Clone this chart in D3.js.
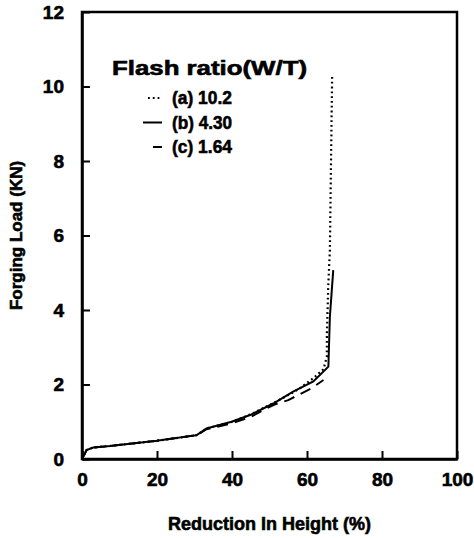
<!DOCTYPE html>
<html>
<head>
<meta charset="utf-8">
<script src="https://cdn.jsdelivr.net/npm/d3@7"></script>
<style>
  body { margin: 0; background: #fff; }
  text { font-family: 'Liberation Sans', Arial, sans-serif; font-weight: bold; fill: #000; stroke: #000; stroke-width: 0.6px; }
</style>
</head>
<body>
<div id="chart"><svg width="474" height="538"></svg></div>
<script>
// reduction in height (%) and forging load (KN)
const reductionA = [0, 1.2, 3, 7.5, 20, 30.6, 33.2, 40, 45, 51, 56, 58.1, 61.7, 64.4, 65.3, 65.3, 65.7, 66.1, 66.7];
const loadA = [0, 0.24, 0.31, 0.35, 0.49, 0.64, 0.82, 1.0, 1.2, 1.5, 1.77, 1.9, 2.17, 2.41, 2.75, 3.37, 4.72, 5.61, 10.26];

const reductionB = [0, 1.25, 3, 7.5, 19.9, 30.6, 33.2, 39.9, 44.8, 51, 56.3, 61.7, 65.7, 66.1, 67.0];
const loadB = [0, 0.24, 0.31, 0.35, 0.49, 0.64, 0.82, 1.0, 1.18, 1.49, 1.81, 2.08, 2.48, 3.82, 5.07];

const reductionC = [0, 1.2, 3, 7.5, 20, 30.6, 33.2, 40, 45, 49.2, 51.5, 55, 58.1, 61.2, 64.4];
const loadC = [0, 0.24, 0.31, 0.35, 0.49, 0.64, 0.8, 0.96, 1.13, 1.36, 1.47, 1.58, 1.74, 1.9, 2.12];

const seriesLabels = ['(a) 10.2', '(b) 4.30', '(c) 1.64'];
const xTicks = [0, 20, 40, 60, 80, 100];
const yTicks = [0, 2, 4, 6, 8, 10, 12];

const SVG = d3.select('#chart svg');
const LEFT = 82, RIGHT = 457, TOP = 12, BOTTOM = 459;

const X_SCALE = d3.scaleLinear().domain([0, 100]).range([LEFT, RIGHT]);
const Y_SCALE = d3.scaleLinear().domain([0, 12]).range([BOTTOM, TOP]);

// frame
SVG.append('rect')
  .attr('x', LEFT).attr('y', TOP)
  .attr('width', RIGHT - LEFT).attr('height', BOTTOM - TOP)
  .style('fill', 'none').style('stroke', '#000').style('stroke-width', 2.5);

const X_AXIS = d3.axisBottom(X_SCALE).tickValues(xTicks).tickSizeInner(-8).tickSizeOuter(0).tickPadding(14);
const X_AXIS_G = SVG.append('g').attr('transform', `translate(0, ${BOTTOM})`).call(X_AXIS);

const Y_AXIS = d3.axisLeft(Y_SCALE).tickValues(yTicks).tickSizeInner(-8).tickSizeOuter(0).tickPadding(18);
const Y_AXIS_G = SVG.append('g').attr('transform', `translate(${LEFT}, 0)`).call(Y_AXIS);

[X_AXIS_G, Y_AXIS_G].forEach((g) => {
  g.select('.domain').style('stroke-width', 2.5);
  g.selectAll('.tick line').style('stroke-width', 2);
  g.selectAll('.tick text')
    .style('font-size', '19px')
    .style('font-family', "'Liberation Sans', Arial, sans-serif")
    .style('font-weight', 'bold')
    .style('stroke', '#000')
    .style('stroke-width', '0.6px');
});
X_AXIS_G.selectAll('.tick text').attr('dy', '0.71em');

// axis titles
SVG.append('text')
  .attr('x', (LEFT + RIGHT) / 2)
  .attr('y', 530)
  .style('text-anchor', 'middle')
  .style('font-size', '18px')
  .text('Reduction In Height (%)');

SVG.append('text')
  .attr('transform', `translate(22, ${(TOP + BOTTOM) / 2}) rotate(-90)`)
  .style('text-anchor', 'middle')
  .style('font-size', '17px')
  .text('Forging Load (KN)');

// curves
const LINE = d3.line().x((d) => X_SCALE(d[0])).y((d) => Y_SCALE(d[1]));
const STYLES = [
  { dash: '1.8,3', width: 2.2 },
  { dash: null, width: 2 },
  { dash: '11,7', width: 2 },
];
const SERIES = [
  d3.zip(reductionA, loadA),
  d3.zip(reductionB, loadB),
  d3.zip(reductionC, loadC),
];

SERIES.forEach((pts, i) => {
  SVG.append('path')
    .datum(pts)
    .attr('d', LINE)
    .style('fill', 'none')
    .style('stroke', '#000')
    .style('stroke-width', STYLES[i].width)
    .style('stroke-dasharray', STYLES[i].dash);
});

// legend
const LEGEND = SVG.append('g').attr('id', 'legend');
LEGEND.append('text')
  .attr('x', 112).attr('y', 75)
  .attr('textLength', 195)
  .attr('lengthAdjust', 'spacingAndGlyphs')
  .style('font-size', '20px')
  .text('Flash ratio(W/T)');

const SAMPLE_X = [[148, 162], [143, 162], [153, 162]];
seriesLabels.forEach((label, i) => {
  const y = 104 + i * 24.5;
  LEGEND.append('line')
    .attr('x1', SAMPLE_X[i][0]).attr('x2', SAMPLE_X[i][1])
    .attr('y1', y - 6).attr('y2', y - 6)
    .style('stroke', '#000')
    .style('stroke-width', STYLES[i].width)
    .style('stroke-dasharray', i === 0 ? STYLES[i].dash : null);
  LEGEND.append('text')
    .attr('x', 172).attr('y', y)
    .attr('textLength', 60)
    .attr('lengthAdjust', 'spacingAndGlyphs')
    .style('font-size', '19px')
    .text(label);
});
</script>
</body>
</html>
